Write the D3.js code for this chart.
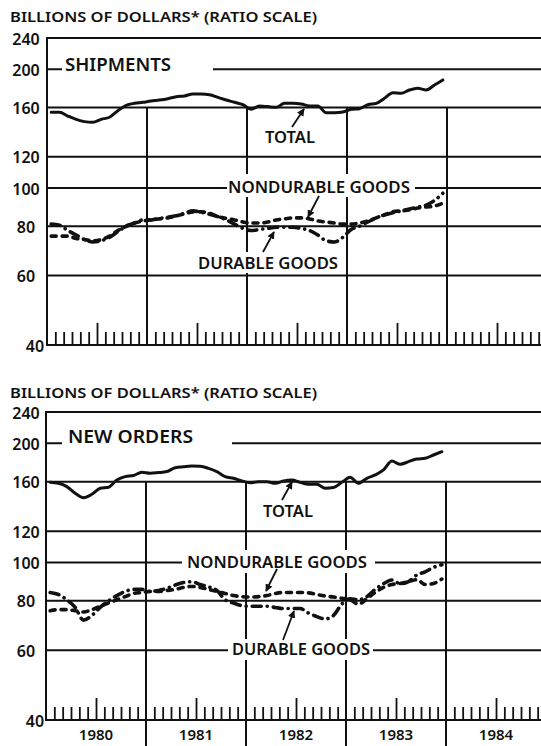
<!DOCTYPE html>
<html>
<head>
<meta charset="utf-8">
<script src="https://cdn.jsdelivr.net/npm/d3@7"></script>
<style>
  html, body { margin: 0; padding: 0; background: #fff; }
  svg { display: block; }
  text { font-family: "Noto Sans", "DejaVu Sans", sans-serif; font-weight: 600; fill: #111; }
</style>
</head>
<body>
<svg id="chart" width="541" height="746"></svg>
<script>
// ---------------- DATA (monthly, Jan 1980 – Dec 1983) ----------------
const years = ["1980", "1981", "1982", "1983", "1984"];
const yTicks = [40, 60, 80, 100, 120, 160, 200, 240];

const shipTotal = [155.5, 155.5, 152.2, 149.3, 147.3, 146.7, 149.3, 151.1, 157.0, 162.0, 163.9, 164.9,
                   166.2, 167.1, 168.4, 170.4, 171.1, 173.1, 173.1, 172.4, 169.7, 167.1, 164.9, 162.6,
                   158.3, 161.4, 160.8, 160.1, 163.9, 163.9, 163.3, 161.4, 161.4, 155.2, 155.2, 155.8,
                   158.3, 158.9, 162.6, 163.9, 168.8, 174.4, 173.8, 177.2, 178.9, 177.2, 182.4, 187.9];
const shipDurable = [81, 80.5, 78, 76, 74, 73, 73.5, 75, 77.5, 80, 81.5, 83,
                     83, 83.8, 84.3, 85, 86.3, 87.5, 86.8, 85.8, 84.6, 83, 81, 79,
                     78, 78.5, 79, 79.5, 79.5, 79.5, 79, 78, 76, 73.5, 73, 75,
                     78.5, 80, 82, 84, 85.5, 86.5, 87.5, 88.5, 89.5, 90.5, 93, 97];
const shipNondurable = [75.5, 75.5, 75.5, 74.5, 74, 73.5, 74, 75.5, 78, 80, 81.5, 82.5,
                        83, 83.5, 84, 85, 86, 87, 87, 86.3, 84.6, 83.8, 83, 82,
                        81.5, 81.5, 82, 83, 83.5, 84, 84, 83.5, 82.5, 82, 81.5, 81,
                        81, 81.5, 82.5, 84, 85.5, 87, 87.5, 88, 89, 89.5, 90, 91.5];

const orderTotal = [159.4, 158.5, 155.5, 149.6, 145.8, 148.7, 154.0, 154.9, 161.6, 164.8, 165.8, 169.0,
                    168.0, 168.7, 169.7, 173.6, 174.6, 175.3, 175.0, 172.9, 169.7, 164.8, 163.2, 160.7,
                    159.1, 160.0, 160.0, 158.5, 160.7, 161.6, 159.4, 157.6, 157.6, 154.0, 154.6, 159.4,
                    164.2, 158.5, 163.2, 166.4, 171.3, 180.5, 177.0, 179.8, 182.6, 183.3, 186.9, 190.5];
const orderDurable = [84, 83, 80.5, 77, 71.5, 73.5, 77, 80, 82.5, 84.5, 85.5, 85.5,
                      84.5, 85, 86, 87.7, 89, 89.4, 88, 86.8, 85, 80.5, 79, 77.8,
                      77.5, 77.5, 77.5, 77, 76.5, 76.5, 76.5, 74.5, 73, 72, 73.5, 78.5,
                      81, 80.5, 82, 85.5, 88.4, 90.3, 88.4, 89.5, 93, 94.7, 97.2, 98.7];
const orderNondurable = [75.5, 76, 76, 75.5, 75, 76, 77.5, 79, 80.5, 82, 83.5, 84,
                         84.5, 84.5, 85, 85.5, 86.5, 87, 86.5, 85.5, 84.5, 83.5, 82.5, 82,
                         81.8, 82, 82.5, 83.5, 84, 84, 84, 83.8, 83, 82.3, 81.8, 81.2,
                         80.5, 78.5, 81, 84, 86.5, 88, 88.5, 89.5, 90.5, 88, 88.5, 90.8];

// ---------------- LAYOUT ----------------
const W = 541;
const svg = d3.select("#chart");
const ink = "#111";

const panels = [
  {
    top: 38, bottom: 345, left: 47, titleY: 22, name: "SHIPMENTS",
    total: shipTotal, durable: shipDurable, nondurable: shipNondurable,
    masks: [ [62, 60, 213, 80], [227, 174, 415, 197], [196, 252, 340, 273] ],
    nameLabel: { x: 65, y: 71, len: 106 },
    totalLabel: { x: 265, y: 143, len: 50 },
    ndLabel: { x: 228, y: 193, len: 182 },
    dLabel: { x: 198, y: 269, len: 140 },
    arrows: [ [292, 127, 304, 109], [319, 196, 308, 217], [263, 252, 274, 232] ],
    extendYear: 0
  },
  {
    top: 412, bottom: 720, left: 46, titleY: 398, name: "NEW ORDERS",
    total: orderTotal, durable: orderDurable, nondurable: orderNondurable,
    masks: [ [62, 432, 232, 452], [182, 550, 375, 573], [228, 639, 373, 660] ],
    nameLabel: { x: 68, y: 443, len: 125 },
    totalLabel: { x: 263, y: 517, len: 50 },
    ndLabel: { x: 187, y: 568, len: 180 },
    dLabel: { x: 232, y: 655, len: 138 },
    arrows: [ [282, 500, 292, 482], [277, 569, 266, 591], [283, 640, 294, 611] ],
    extendYear: 28
  }
];

// arrowhead marker
svg.append("defs").append("marker")
  .attr("id", "ah").attr("viewBox", "0 0 10 10")
  .attr("refX", 9).attr("refY", 5)
  .attr("markerWidth", 4.2).attr("markerHeight", 4.2)
  .attr("markerUnits", "strokeWidth")
  .attr("orient", "auto")
  .append("path").attr("d", "M0,0 L10,5 L0,10 Z").attr("fill", ink);

panels.forEach(p => {
  const g = svg.append("g");
  const x = d3.scaleLinear().domain([0, 60]).range([p.left, p.left + 500]);
  const y = d3.scaleLog().domain([40, 240]).range([p.bottom, p.top]);

  // title
  g.append("text").attr("x", 10).attr("y", p.titleY)
    .attr("font-size", 15).attr("textLength", 307).attr("lengthAdjust", "spacingAndGlyphs")
    .text("BILLIONS OF DOLLARS* (RATIO SCALE)");

  // horizontal gridlines
  g.selectAll("line.h").data(yTicks).join("line")
    .attr("x1", p.left).attr("x2", W)
    .attr("y1", d => y(d)).attr("y2", d => y(d))
    .attr("stroke", ink).attr("stroke-width", 2);

  // left border
  g.append("line").attr("x1", p.left).attr("x2", p.left)
    .attr("y1", p.top - 1).attr("y2", p.bottom + 1)
    .attr("stroke", ink).attr("stroke-width", 2);

  // year separators (from 160 line down)
  const yearIdx = [12, 24, 36, 48];
  g.selectAll("line.yr").data(yearIdx).join("line")
    .attr("x1", d => x(d)).attr("x2", d => x(d))
    .attr("y1", y(160)).attr("y2", p.bottom + p.extendYear)
    .attr("stroke", ink).attr("stroke-width", 2);

  // monthly ticks using an axis pointing up
  const monthTicks = d3.range(1, 60).filter(m => m % 12 !== 0);
  const ax = g.append("g").attr("transform", `translate(0,${p.bottom})`)
    .call(d3.axisTop(x).tickValues(monthTicks).tickSize(13).tickFormat(""));
  ax.select(".domain").remove();
  ax.selectAll(".tick line").attr("stroke", ink).attr("stroke-width", 1.8)
    .attr("y2", d => d % 12 === 6 ? -22 : -13);

  // y tick labels
  g.selectAll("text.yl").data(yTicks).join("text")
    .attr("x", d => d === 40 ? 35 : 26)
    .attr("y", d => y(d) + 6.5)
    .attr("text-anchor", "middle")
    .attr("font-size", 16)
    .text(d => d);

  // white masks behind labels (gaps in grid)
  g.selectAll("rect.mask").data(p.masks).join("rect")
    .attr("x", d => d[0]).attr("y", d => d[1])
    .attr("width", d => d[2] - d[0]).attr("height", d => d[3] - d[1])
    .attr("fill", "#fff");

  // series
  const line = d3.line().x((d, i) => x(i + 0.5)).y(d => y(d)).curve(d3.curveMonotoneX);

  g.append("path").datum(p.nondurable).attr("d", line)
    .attr("fill", "none").attr("stroke", ink).attr("stroke-width", 3.6)
    .attr("stroke-linecap", "round").attr("stroke-dasharray", "5,6");

  g.append("path").datum(p.durable).attr("d", line)
    .attr("fill", "none").attr("stroke", ink).attr("stroke-width", 3.6)
    .attr("stroke-linecap", "round").attr("stroke-dasharray", "9,6,0.1,6");

  g.append("path").datum(p.total).attr("d", line)
    .attr("fill", "none").attr("stroke", ink).attr("stroke-width", 3)
    .attr("stroke-linejoin", "round").attr("stroke-linecap", "round");

  // labels
  const lab = (o, t, fs) => g.append("text").attr("x", o.x).attr("y", o.y)
    .attr("font-size", fs).attr("textLength", o.len).attr("lengthAdjust", "spacingAndGlyphs").text(t);
  lab(p.nameLabel, p.name, 18);
  lab(p.totalLabel, "TOTAL", 16);
  lab(p.ndLabel, "NONDURABLE GOODS", 16);
  lab(p.dLabel, "DURABLE GOODS", 16);

  // arrows
  g.selectAll("line.arr").data(p.arrows).join("line")
    .attr("x1", d => d[0]).attr("y1", d => d[1]).attr("x2", d => d[2]).attr("y2", d => d[3])
    .attr("stroke", ink).attr("stroke-width", 1.8).attr("marker-end", "url(#ah)");

  // year labels (only under the bottom panel)
  if (p.extendYear) {
    g.selectAll("text.yr").data(years).join("text")
      .attr("x", (d, i) => x(i * 12 + 6)).attr("y", p.bottom + 20)
      .attr("text-anchor", "middle").attr("font-size", 15)
      .text(d => d);
  }
});
</script>
</body>
</html>
